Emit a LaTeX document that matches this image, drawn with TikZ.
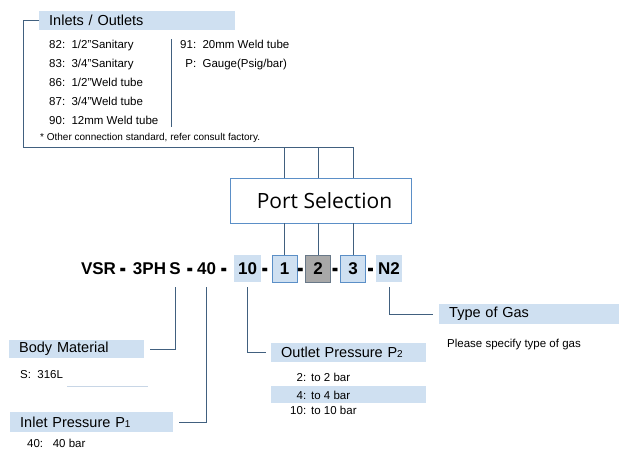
\documentclass[tikz,border=0pt]{standalone}
\usepackage{fontspec}
\setmainfont{Liberation Sans}
\newfontfamily\portfont{Open Sans}
\usetikzlibrary{positioning}
\definecolor{bandblue}{HTML}{CFE0F1}
\definecolor{linkblue}{HTML}{41607F}
\definecolor{boxblue}{HTML}{5B8FC7}
\definecolor{boxgray}{HTML}{A8A8A8}
\definecolor{graydark}{HTML}{687888}
\definecolor{rulegray}{HTML}{C8D6E6}
\tikzset{
	link/.style={draw=linkblue, line width=0.9pt},
	band/.style={fill=bandblue, anchor=north west, inner xsep=10pt, inner ysep=0pt, align=left, font=\fontsize{14.5}{16}\selectfont},
	item/.style={anchor=base west, inner sep=0pt, font=\fontsize{11.5}{13}\selectfont},
	codetext/.style={font=\fontsize{17}{17}\selectfont\bfseries, text height=12pt, text depth=0pt, minimum height=27pt, inner sep=0pt},
	codefill/.style={codetext, fill=bandblue, minimum width=26pt},
	codebox/.style={codetext, fill=bandblue, draw=boxblue, line width=0.9pt, minimum width=25pt},
}
\newcommand{\num}[1]{\makebox[16pt][r]{#1}}
\newcommand{\sep}{\raisebox{-2.6pt}{\scalebox{1.15}[1.7]{-}}}

\begin{document}
\begin{tikzpicture}[x=1pt, y=-1pt]
		%%%%% START %%%%%
		\useasboundingbox (0, 0) rectangle (639, 461);
		
		% inlets / outlets
		\node[band, text width=176pt, minimum height=19pt] (inlets) at (39, 11) {Inlets / Outlets};
		\node[item] (i82) at (49, 48) {\num{82:}\ \ 1/2"Sanitary};
		\node[item] (i83) at (49, 67) {\num{83:}\ \ 3/4"Sanitary};
		\node[item] (i86) at (49, 86) {\num{86:}\ \ 1/2"Weld tube};
		\node[item] (i87) at (49, 105) {\num{87:}\ \ 3/4"Weld tube};
		\node[item] (i90) at (49, 124) {\num{90:}\ \ 12mm Weld tube};
		\node[item] (i91) at (180, 48) {\num{91:}\ \ 20mm Weld tube};
		\node[item] (ip) at (180, 67) {\num{P:}\ \ Gauge(Psig/bar)};
		\node[item, font=\fontsize{10}{12}\selectfont] (inote) at (40, 140) {* Other connection standard, refer consult factory.};
		\coordinate (divtop) at (171, 39);
		\coordinate (divbot) at (171, 127);
		\draw[link] (divtop) -- (divbot);
		
		% port selection
		\node[draw=boxblue, line width=0.9pt, minimum width=181pt, minimum height=45pt, font=\portfont\fontsize{21}{24}\selectfont] (port) at (320.5, 200.5) {\hspace{8pt}Port Selection};
		
		% code line
		\node[codetext] (vsr) at (98.5, 268.5) {VSR};
		\node[codetext] (d1) at (123, 268.5) {\sep};
		\node[codetext] (ph) at (149.5, 268.5) {3PH};
		\node[codetext] (s) at (175, 268.5) {S};
		\node[codetext] (d2) at (190, 268.5) {\sep};
		\node[codetext] (c40) at (206.5, 268.5) {40};
		\node[codetext] (d3) at (224, 268.5) {\sep};
		\node[codefill, minimum width=27pt] (c10) at (247.5, 268.5) {10};
		\node[codetext] (d4) at (265, 268.5) {\sep};
		\node[codebox] (p1) at (284.5, 268.5) {1};
		\node[codetext] (d5) at (300.5, 268.5) {\sep};
		\node[codebox, fill=boxgray, draw=graydark] (p2) at (318, 268.5) {2};
		\node[codetext] (d6) at (335, 268.5) {\sep};
		\node[codebox] (p3) at (353, 268.5) {3};
		\node[codetext] (d7) at (370.5, 268.5) {\sep};
		\node[codefill] (gas) at (389, 268.5) {N2};
		
		% bracket to port selection
		\coordinate (corner) at (23, 147.5);
		\draw[link] (inlets.west) -- (inlets.west -| corner) -- (corner) -- (corner -| p3.north) -- (p3.north |- port.north);
		\draw[link] (corner -| p1.north) -- (p1.north |- port.north);
		\draw[link] (corner -| p2.north) -- (p2.north |- port.north);
		\draw[link] (p1.north |- port.south) -- (p1.north);
		\draw[link] (p2.north |- port.south) -- (p2.north);
		\draw[link] (p3.north |- port.south) -- (p3.north);
		
		% body material
		\node[band, text width=115pt, minimum height=18pt] (body) at (9, 340) {Body Material};
		\node[item] (bs) at (20, 378) {S:\ \ 316L};
		\draw[rulegray, line width=0.8pt] (67, 386) -- (148, 386);
		\draw[link] ([yshift=-5pt]s.south) |- ([xshift=6pt]body.east);
		
		% inlet pressure
		\node[band, text width=143pt, minimum height=20pt] (inp) at (10, 412) {Inlet Pressure P{\fontsize{10}{12}\selectfont 1}};
		\node[item] (i40) at (27, 447) {40:\ \ \ 40 bar};
		\draw[link] ([yshift=-5pt]c40.south) |- ([xshift=6pt]inp.east);
		
		% outlet pressure
		\node[band, text width=135pt, minimum height=19pt] (outp) at (271, 343) {Outlet Pressure P{\fontsize{10}{12}\selectfont 2}};
		\node[item] (o2) at (290, 381) {\num{2:}\hspace{5pt}to 2 bar};
		\fill[bandblue] (271, 386) rectangle (426, 403);
		\node[item] (o4) at (290, 399) {\num{4:}\hspace{5pt}to 4 bar};
		\node[item] (o10) at (290, 414) {\num{10:}\hspace{5pt}to 10 bar};
		\draw[link] ([yshift=-5pt]c10.south) |- ([xshift=-5pt]outp.west);
		
		% type of gas
		\node[band, text width=160pt, minimum height=20pt] (gasband) at (439, 304) {Type of Gas};
		\node[item] (gnote) at (447, 347) {Please specify type of gas};
		\draw[link] ([yshift=-5pt]gas.south) |- ([xshift=-6pt]gasband.west);
		
		%%%%% END %%%%%
	\end{tikzpicture}
\end{document}
